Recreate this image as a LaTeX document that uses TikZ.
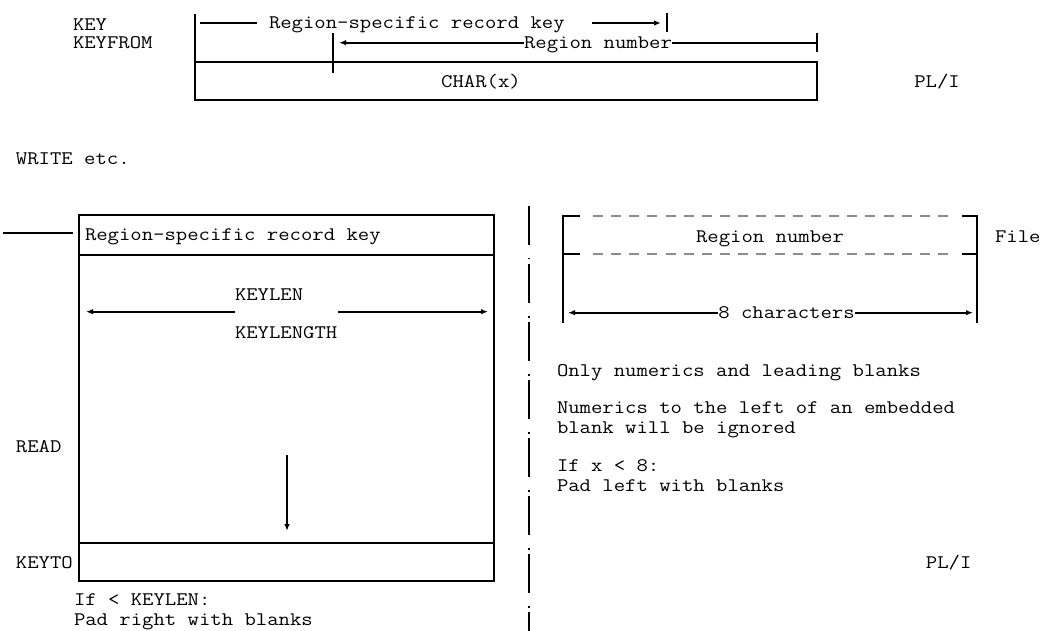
\documentclass[tikz,border=0pt]{standalone}
\usepackage{fontspec}
\setmonofont[FakeStretch=1.15]{Latin Modern Mono}
\usetikzlibrary{arrows.meta}
\begin{document}
\begin{tikzpicture}[x=1pt,y=-1pt,
  txt/.style={inner sep=0pt, outer sep=0pt, anchor=west,
    font=\ttfamily\fontsize{19.2}{22}\selectfont, text height=12pt, text depth=1pt},
  ctxt/.style={txt, anchor=center},
  rule/.style={line width=2pt},
  thin rule/.style={line width=1.8pt},
  arr/.style={line width=1.8pt, -{Latex[length=7pt,width=5.5pt]}},
  gap/.style={fill=white, inner xsep=0.5pt},
  box/.style={draw, line width=2pt, inner sep=0pt, outer sep=0pt},
  dashrule/.style={line width=2pt, black!45, dash pattern=on 10pt off 8.16pt},
  divider/.style={line width=2pt, dash pattern=on 39pt off 13pt on 1.5pt off 4.5pt}
]
\useasboundingbox (0,0) rectangle (1050,631);

% ---------- top: KEY / KEYFROM layout ----------
\node[txt] (key) at (73,25) {KEY};
\node[txt] (keyfrom) at (73,43) {KEYFROM};

\node[box, minimum width=622pt, minimum height=38pt] (charbox) at (506,81) {};
\node[ctxt] (charx) at (481,82) {CHAR(x)};
\node[ctxt] (pli1) at (937,82) {PL/I};

\coordinate (kl0) at (195,14);
\coordinate (kl1) at (195,62);
\draw[rule] (kl0) -- (kl1);

% record key span
\coordinate (rk0) at (200,23);
\coordinate (rk1) at (257,23);
\coordinate (rk2) at (592,23);
\coordinate (rk3) at (661,23);
\coordinate (rkt0) at (667,13);
\coordinate (rkt1) at (667,32);
\draw[thin rule] (rk0) -- (rk1);
\node[txt] (rkey) at (269,23) {Region-specific record key};
\draw[arr] (rk2) -- (rk3);
\draw[rule] (rkt0) -- (rkt1);

% region number span
\coordinate (rnt0) at (333,33);
\coordinate (rnt1) at (333,73);
\coordinate (rnr0) at (817,33);
\coordinate (rnr1) at (817,52);
\coordinate (rnA) at (817,42.7);
\coordinate (rnB) at (339,42.7);
\draw[rule] (rnt0) -- (rnt1);
\draw[rule] (rnr0) -- (rnr1);
\draw[arr] (rnA) -- (rnB);
\node[ctxt, gap] (rnum) at (598,42.7) {Region number};

\node[txt] (write) at (16,159) {WRITE etc.};

% ---------- lower left: READ layout ----------
\node[box, minimum width=415pt, minimum height=366pt] (readbox) at (286.5,398) {};
\coordinate (h0) at (79,255);
\coordinate (h1) at (494,255);
\coordinate (k0) at (79,543);
\coordinate (k1) at (494,543);
\draw[rule] (h0) -- (h1);
\draw[rule] (k0) -- (k1);

\coordinate (lead0) at (3,233);
\coordinate (lead1) at (73,233);
\draw[thin rule] (lead0) -- (lead1);
\node[txt] (rkey2) at (85,235) {Region-specific record key};

\node[txt] (klen) at (235,295) {KEYLEN};
\node[txt] (klength) at (235,333) {KEYLENGTH};
\coordinate (kla) at (235,311.7);
\coordinate (klb) at (86,311.7);
\coordinate (klc) at (338,311.7);
\coordinate (kld) at (488,311.7);
\draw[arr] (kla) -- (klb);
\draw[arr] (klc) -- (kld);

\coordinate (dn0) at (287,455);
\coordinate (dn1) at (287,531);
\draw[arr] (dn0) -- (dn1);

\node[txt] (read) at (16,447) {READ};
\node[txt] (keyto) at (16,563) {KEYTO};
\node[txt] (ifk) at (74,600) {If < KEYLEN:};
\node[txt] (padr) at (74,620) {Pad right with blanks};

% ---------- divider ----------
\coordinate (dv0) at (529,206);
\coordinate (dv1) at (529,631);
\draw[divider] (dv0) -- (dv1);

% ---------- right: file layout ----------
\coordinate (fa) at (580,216);
\coordinate (fb) at (563,216);
\coordinate (fc) at (563,323);
\coordinate (fd) at (962,216);
\coordinate (fe) at (977,216);
\coordinate (ff) at (977,323);
\draw[rule] (fa) -- (fb) -- (fc);
\draw[rule] (fd) -- (fe) -- (ff);
\coordinate (fg) at (563,254.3);
\coordinate (fh) at (580,254.3);
\coordinate (fi) at (962,254.3);
\coordinate (fj) at (977,254.3);
\draw[rule] (fg) -- (fh);
\draw[rule] (fi) -- (fj);
\coordinate (da0) at (593,216);
\coordinate (da1) at (948,216);
\coordinate (db0) at (593,254.3);
\coordinate (db1) at (948,254.3);
\draw[dashrule] (da0) -- (da1);
\draw[dashrule] (db0) -- (db1);

\node[ctxt] (rnum2) at (770,236.7) {Region number};
\node[txt] (file) at (995,236.7) {File};

\coordinate (ec) at (786,312.7);
\coordinate (el) at (568,312.7);
\coordinate (er) at (973,312.7);
\draw[arr] (ec) -- (el);
\draw[arr] (ec) -- (er);
\node[ctxt, gap] (eight) at (786.5,312.7) {8 characters};

\node[txt] (n1) at (557,370.7) {Only numerics and leading blanks};
\node[txt] (n2) at (557,408.3) {Numerics to the left of an embedded};
\node[txt] (n3) at (557,427.7) {blank will be ignored};
\node[txt] (n4) at (557,466) {If x < 8:};
\node[txt] (n5) at (557,485.7) {Pad left with blanks};
\node[ctxt] (pli2) at (948.7,563) {PL/I};

\end{tikzpicture}
\end{document}
